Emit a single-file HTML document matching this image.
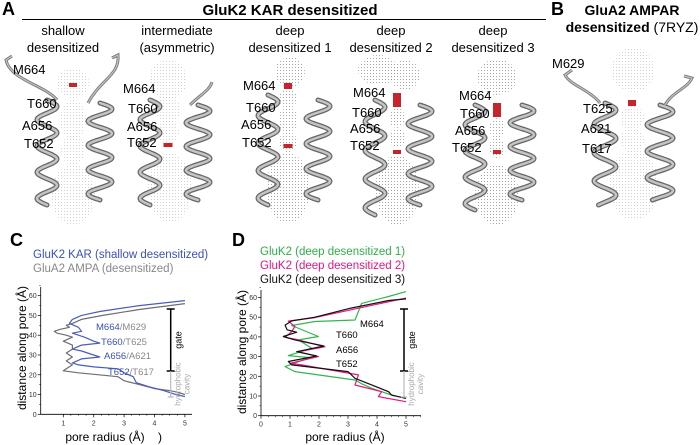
<!DOCTYPE html>
<html><head><meta charset="utf-8"><style>
html,body{margin:0;padding:0;background:#fff;}
svg{display:block;font-family:"Liberation Sans",Arial,sans-serif;}
</style></head><body>
<svg id="fig" width="700" height="445" viewBox="0 0 700 445">
<defs>
<pattern id="dots" width="3" height="3" patternUnits="userSpaceOnUse"><circle cx="1.5" cy="1.5" r="0.5" fill="#888"/></pattern>
<pattern id="dotsL" width="3" height="3" patternUnits="userSpaceOnUse"><circle cx="1.5" cy="1.5" r="0.45" fill="#bbb"/></pattern>
</defs>
<g>
<text x="2" y="15" font-size="18" font-weight="bold">A</text>
<text x="290" y="15" font-size="15" font-weight="bold" text-anchor="middle">GluK2 KAR desensitized</text>
<line x1="22" y1="19.5" x2="546" y2="19.5" stroke="#000" stroke-width="1"/>
<text x="551" y="15" font-size="18" font-weight="bold">B</text>
<text x="632" y="15" font-size="14" font-weight="bold" text-anchor="middle">GluA2 AMPAR</text>
<text x="632" y="32" font-size="14" text-anchor="middle"><tspan font-weight="bold">desensitized</tspan> (7RYZ)</text>
</g>
<g font-size="13" text-anchor="middle">
<text x="63" y="35">shallow</text><text x="63" y="52">desensitized</text>
<text x="177" y="35">intermediate</text><text x="177" y="52">(asymmetric)</text>
<text x="290" y="35">deep</text><text x="290" y="52">desensitized 1</text>
<text x="391" y="35">deep</text><text x="391" y="52">desensitized 2</text>
<text x="493" y="35">deep</text><text x="493" y="52">desensitized 3</text>
</g>
<g id="structs"></g>
<g id="chartC"></g>
<g id="chartD"></g>
</svg>
<script>
// ---- Chart C data (distance along pore, pore radius) ----
const cBlueD=[57.5,55,52,50,48,46,44,42,41,39,37,36,35,33,32,30,29,28,26,25,24,23,21,19,16,14,12,10,9];
const cBlueR=[5.0,3.5,2.2,1.6,1.3,1.2,1.5,1.6,1.3,1.7,2.0,2.2,1.6,1.3,1.6,2.0,2.2,1.6,1.3,1.5,2.0,2.8,3.0,3.3,3.4,3.8,4.3,4.7,5.0];
const cGrayD=[56,53,50,48,46,45,44,43,42,41,40,39,37,35,33,31,29,27,25,23,22,21,19,17,15,13,12,11,10];
const cGrayR=[5.0,3.5,2.3,1.6,1.3,1.1,1.2,0.9,0.7,0.8,1.1,1.3,1.0,1.3,1.3,1.1,1.3,1.1,1.3,1.1,1.0,1.5,2.8,3.0,3.5,4.0,4.5,4.8,5.0];
// ---- Chart D data ----
const dBlackD=[59.3,58.5,54.6,50,48.1,46,43.6,42.4,40.2,38.5,35.4,32.5,30.3,27.5,25.8,22.4,19,12.2,10.5,8.8];
const dBlackR=[5.0,4.4,3.1,1.86,1.06,0.83,0.9,1.23,0.77,1.17,2.17,1.23,1.92,0.94,1.06,3.0,3.24,4.4,4.5,5.0];
const dPinkD=[59.7,54.2,49.8,48,45.3,42.7,39.8,38.5,35,32.5,30,26.6,25.8,20.7,15.6,12.2,9.7,7.1];
const dPinkR=[5.0,3.24,1.86,0.94,1.17,1.06,0.83,1.29,2.2,1.29,1.98,1.0,1.4,3.36,3.24,4.16,4.05,5.0];
const dGreenD=[63,60.5,57,48.6,47.8,45.8,40.2,38.5,34.2,30.5,29.5,24.9,22.4,18.1,16,14,12,10];
const dGreenR=[5.0,4.4,3.47,3.24,1.86,1.06,1.98,1.29,1.75,0.94,1.69,0.83,1.17,3.24,3.5,3.8,4.2,4.6];
const yTicks=[0,10,20,30,40,50,60];
const xTicksC=[1,2,3,4,5];
const xTicksD=[0,1,2,3,4,5];

const NS="http://www.w3.org/2000/svg";
function mk(tag,attrs,parent,txt){const e=document.createElementNS(NS,tag);for(const k in attrs)e.setAttribute(k,attrs[k]);if(txt!==undefined)e.textContent=txt;parent.appendChild(e);return e;}

function drawChart(g,o){
  const sx=v=>o.x0+v*o.ux, sy=v=>o.y0-v*o.uy;
  const ax=mk('path',{d:`M${o.axL} ${o.yTop}V${o.y0}H${o.axR}`,fill:'none',stroke:'#000','stroke-width':0.8},g);
  
  yTicks.forEach(t=>{
    const l=mk('line',{x1:o.axL-3,x2:o.axL,y1:sy(t),y2:sy(t),stroke:'#000','stroke-width':0.7},g);
    
    const m=mk('line',{x1:o.axL-1.5,x2:o.axL,y1:sy(t+5),y2:sy(t+5),stroke:'#000','stroke-width':0.5},g);
    
    const tx=mk('text',{x:o.axL-4,y:sy(t)+2.5,'font-size':7,'text-anchor':'end',fill:'#333'},g,String(t));
    
  });
  o.xt.forEach(t=>{
    const l=mk('line',{x1:sx(t),x2:sx(t),y1:o.y0,y2:o.y0+3,stroke:'#000','stroke-width':0.7},g);
    
    [0.25,0.5,0.75].forEach(f=>{if(sx(t+f)<o.axR){const m=mk('line',{x1:sx(t+f),x2:sx(t+f),y1:o.y0,y2:o.y0+1.5,stroke:'#000','stroke-width':0.5},g);
      }});
    const tx=mk('text',{x:sx(t),y:o.y0+11,'font-size':7,'text-anchor':'middle',fill:'#333'},g,String(t));
    
  });
  o.series.forEach(s=>{
    const d=s.d.map((v,i)=>(i?'L':'M')+sx(s.r[i]).toFixed(1)+' '+sy(v).toFixed(1)).join('');
    const p=mk('path',{d:d,fill:'none',stroke:s.c,'stroke-width':1.2,'stroke-linejoin':'round'},g);
    
  });
  const gb=mk('path',{d:`M${o.gx} 309V371M${o.gx-4} 309H${o.gx+4}M${o.gx-4} 371H${o.gx+4}`,stroke:'#000','stroke-width':1.5,fill:'none'},g);
  
  const hb=mk('path',{d:`M${o.gx} 371V397M${o.gx-3} 397H${o.gx+3}`,stroke:'#bbb','stroke-width':1.2,fill:'none'},g);
  
  const gt=mk('text',{transform:`translate(${o.gx+11},340) rotate(-90)`,'font-size':9,'text-anchor':'middle'},g,'gate');
  
  const h1=mk('text',{transform:`translate(${o.gx+10},384) rotate(-90)`,'font-size':8,'text-anchor':'middle',fill:'#aaa'},g,'hydrophobic');
  
  const h2=mk('text',{transform:`translate(${o.gx+19},384) rotate(-90)`,'font-size':8,'text-anchor':'middle',fill:'#aaa'},g,'cavity');
  
}

const gC=document.getElementById('chartC');
drawChart(gC,{x0:32.9,ux:30.4,y0:414.3,uy:1.977,axL:40.7,axR:192,yTop:287,xt:xTicksC,gx:170.7,
  series:[{d:cGrayD,r:cGrayR,c:'#6e6e6e',n:'line-glua2'},{d:cBlueD,r:cBlueR,c:'#4a5cc0',n:'line-gluk2-shallow'}]});
const gD=document.getElementById('chartD');
drawChart(gD,{x0:261,ux:29,y0:415.7,uy:1.97,axL:261,axR:421,yTop:290,xt:xTicksD,gx:404,
  series:[{d:dGreenD,r:dGreenR,c:'#33b54f',n:'line-deep1'},{d:dPinkD,r:dPinkR,c:'#e8157f',n:'line-deep2'},{d:dBlackD,r:dBlackR,c:'#111',n:'line-deep3'}]});

function T(g,x,y,s,txt,name,extra){const e=mk('text',Object.assign({x:x,y:y,'font-size':s},extra||{}),g,txt);return e;}
T(gC,10,246,18,'C','panel-label-c',{'font-weight':'bold'});
T(gC,33,258,11.5,'GluK2 KAR (shallow desensitized)','legend-gluk2',{fill:'#3d50b5'});
T(gC,33,272,11.5,'GluA2 AMPA (desensitized)','legend-glua2',{fill:'#888'});
T(gC,26,348,12,'distance along pore (Å)','y-axis-title',{transform:'rotate(-90 26 348)','text-anchor':'middle'});
T(gC,105,441,12,'pore radius (Å)','x-axis-title',{'text-anchor':'middle'});
T(gC,158,441,12,')','stray-paren');
[['M664','M629',96,330],['T660','T625',101,345],['A656','A621',104,359],['T652','T617',108,375]].forEach(a=>{
  const e=mk('text',{x:a[2],y:a[3],'font-size':9.5},gC);
  mk('tspan',{fill:'#3d50b5'},e,a[0]);mk('tspan',{fill:'#888'},e,'/'+a[1]);
});
T(gD,232,246,18,'D','panel-label-d',{'font-weight':'bold'});
T(gD,260,255,11.5,'GluK2 (deep desensitized 1)','legend-deep1',{fill:'#2fae4a'});
T(gD,260,269,11.5,'GluK2 (deep desensitized 2)','legend-deep2',{fill:'#e8157f'});
T(gD,260,283,11.5,'GluK2 (deep desensitized 3)','legend-deep3',{fill:'#111'});
T(gD,246,352,12,'distance along pore (Å)','y-axis-title-d',{transform:'rotate(-90 246 352)','text-anchor':'middle'});
T(gD,345,441,12,'pore radius (Å)','x-axis-title-d',{'text-anchor':'middle'});
[['M664',360,327],['T660',336,338],['A656',336,353],['T652',336,367]].forEach(a=>T(gD,a[1],a[2],9.5,a[0],'residue-label-d'));

// ---- structures ----
const gS=document.getElementById('structs');
function helix(cx,y0,y1,amp,n,w){
  let d='';const steps=100;
  for(let i=0;i<=steps;i++){const t=i/steps;const y=y0+(y1-y0)*t;const x=cx+amp*Math.sin(t*n*2*Math.PI);d+=(i?'L':'M')+x.toFixed(1)+' '+y.toFixed(1);}
  const a=mk('path',{d:d,fill:'none',stroke:'#666','stroke-width':w,'stroke-linecap':'round','stroke-linejoin':'round'},gS);
  
  const b=mk('path',{d:d,fill:'none',stroke:'#c4c4c4','stroke-width':w-2.5,'stroke-linecap':'round','stroke-linejoin':'round'},gS);
  
}
function loop(d){const a=mk('path',{d:d,fill:'none',stroke:'#777','stroke-width':3},gS);
 const b=mk('path',{d:d,fill:'none',stroke:'#c4c4c4','stroke-width':1.2},gS);}
function pore(list,light){list.forEach(e=>{const p=mk('ellipse',{cx:e[0],cy:e[1],rx:e[2],ry:e[3],fill:light?'url(#dotsL)':'url(#dots)'},gS);});}
function red(x,y,w,h){const r=mk('rect',{x:x-w/2,y:y-h/2,width:w,height:h,fill:'#c8232a'},gS);}
function labels(arr){arr.forEach(a=>T(gS,a[1],a[2]+5,13,a[0],'residue-label-struct'));}

// shallow
pore([[73,83,16,15],[73,120,13,20],[73,150,12,15],[73,195,22,30]],true);
helix(47,100,205,10,4,5);helix(100,103,200,12,4,5);
loop('M57 100 C45 85 10 80 6 60 L12 56');loop('M88 103 C100 80 120 75 118 55 L112 58');
red(73,85,8,4);
labels([['M664',13,69],['T660',27,103],['A656',22,125],['T652',24,143]]);
// intermediate
pore([[168,80,19,20],[168,110,12,15],[168,132,11,12],[170,188,22,35]],true);
helix(150,100,205,10,4,5);helix(198,105,200,12,4,5);
loop('M190 105 C200 95 210 90 212 82');
red(168,145,9,4);
labels([['M664',123,88],['T660',128,108],['A656',127,126],['T652',127,142]]);
// deep1
pore([[290,72,15,15],[288,98,9,10],[288,120,10,12],[288,142,9,10],[288,188,22,35]],false);
helix(268,95,205,10,4,5);helix(318,100,200,12,4,5);
red(288,86,8,6);red(288,146,9,4);
labels([['M664',243,85],['T660',246,107],['A656',241,124],['T652',242,142]]);
// deep2
pore([[378,70,20,15],[405,75,15,15],[397,118,8,10],[397,138,8,10],[397,190,22,35]],false);
helix(375,100,215,10,4,5);helix(420,105,205,12,4,5);
red(397,100,8,14);red(397,152,8,4);
labels([['M664',353,92],['T660',352,112],['A656',350,128],['T652',350,145]]);
// deep3
pore([[497,77,20,18],[497,128,8,10],[497,148,8,10],[497,195,22,30]],false);
helix(475,105,210,10,4,5);helix(522,105,200,12,4,5);
red(497,110,8,14);red(497,152,8,4);
labels([['M664',459,95],['T660',460,113],['A656',455,130],['T652',452,147]]);
// GluA2
pore([[633,70,22,22],[632,118,12,12],[632,140,12,12],[634,185,25,35]],true);
helix(605,103,205,11,3.6,5);helix(660,105,200,13,3.6,5);
loop('M600 103 C590 90 570 85 565 75 L572 70');loop('M665 105 C672 92 688 88 692 78 L684 76');
red(632,103,8,6);
labels([['M629',552,63],['T625',583,108],['A621',581,128],['T617',582,148]]);
</script>
</body></html>
